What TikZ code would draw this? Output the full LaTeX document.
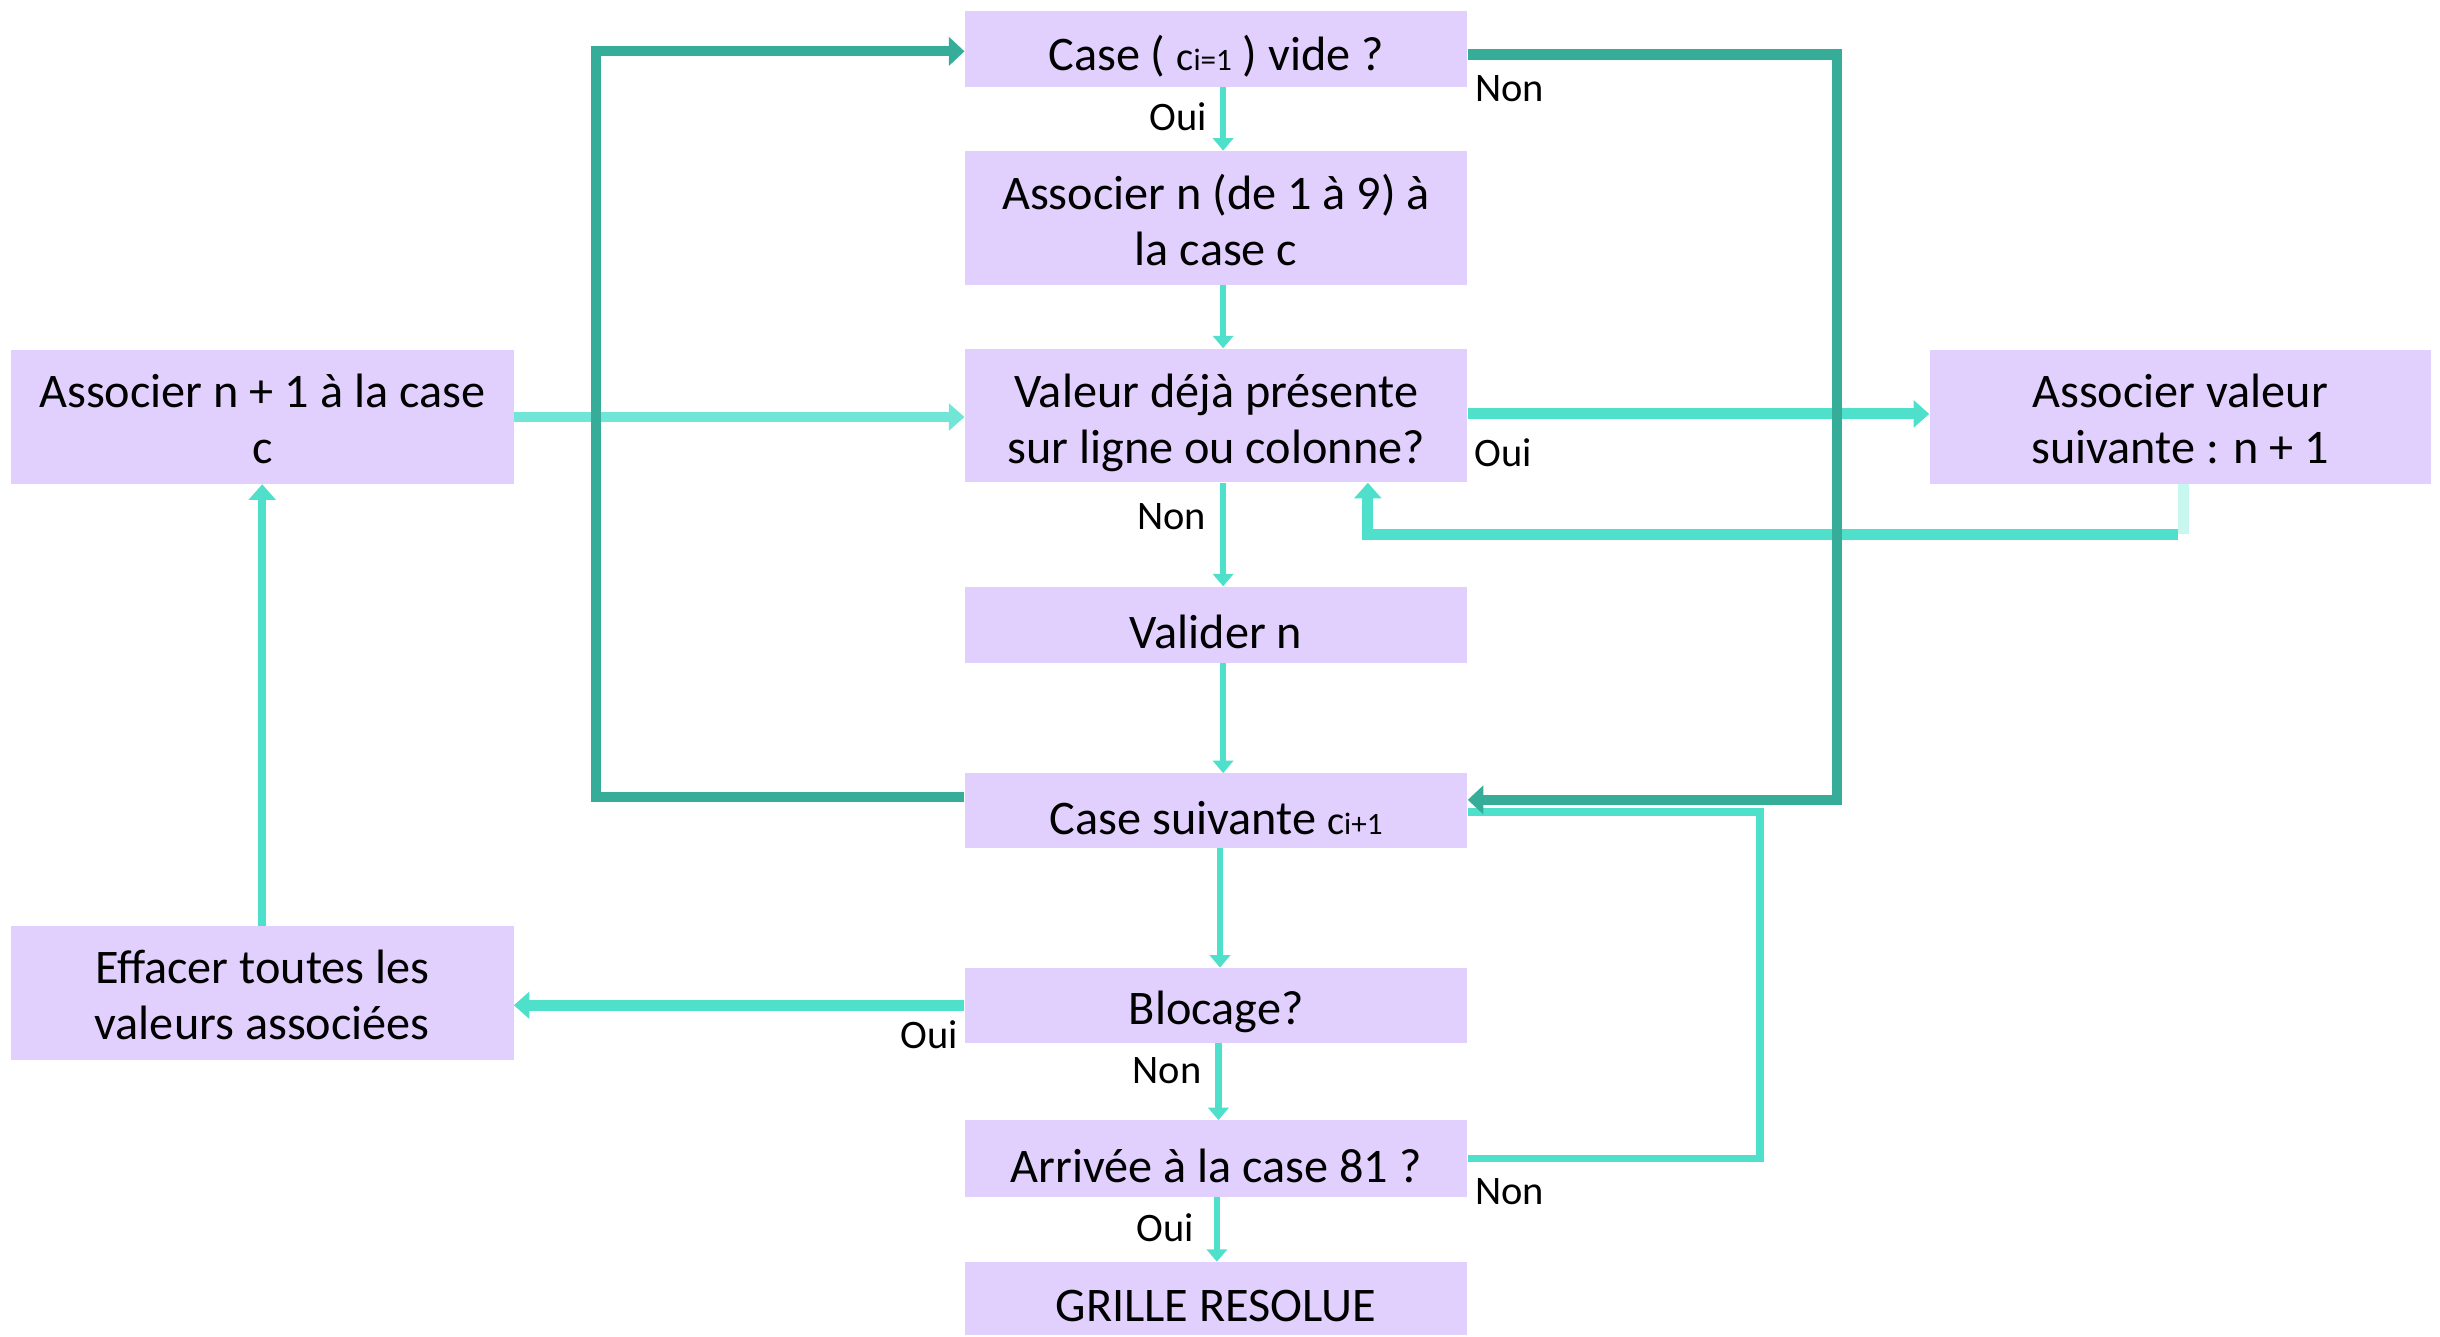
\documentclass[tikz,border=0pt]{standalone}
\usepackage{fontspec}
\setmainfont{Carlito}
\usetikzlibrary{arrows.meta}
\definecolor{boxfill}{RGB}{225,208,253}
\definecolor{turq}{RGB}{79,224,204}
\definecolor{turqlt}{RGB}{114,230,214}
\definecolor{palet}{RGB}{200,247,240}
\definecolor{dkteal}{RGB}{54,173,152}
\newcommand{\mysub}[2]{{\fontsize{26}{26}\selectfont #1}{\fontsize{20}{20}\selectfont #2}}
\begin{document}
\begin{tikzpicture}[x=1pt,y=-1pt,
  flowbox/.style={rectangle, fill=boxfill, inner sep=0pt, minimum width=323pt},
  txt/.style={inner sep=0pt, align=center, font=\fontsize{31}{36}\selectfont},
  lbl/.style={font=\fontsize{26}{30}\selectfont, inner sep=0pt},
  thin/.style={draw=turq, line width=4pt, -{Triangle[width=13pt,length=8pt]}},
  thick/.style={draw=turq, line width=7pt, -{Triangle[width=17pt,length=10pt]}},
  dk/.style={draw=dkteal, line width=6.5pt}
]
\useasboundingbox (0,0) rectangle (1568,859);
% boxes
\node[flowbox, minimum height=49pt] (B1) at (781.5,31.5) {};
\node[flowbox, minimum height=86pt] (B2) at (781.5,140) {};
\node[flowbox, minimum height=86pt] (B3) at (781.5,267) {};
\node[flowbox, minimum height=49pt] (B4) at (781.5,401.5) {};
\node[flowbox, minimum height=48pt] (B5) at (781.5,521) {};
\node[flowbox, minimum height=48pt] (B6) at (781.5,646) {};
\node[flowbox, minimum height=49pt] (B7) at (781.5,744.5) {};
\node[flowbox, minimum height=47pt] (B8) at (781.5,834.5) {};
\node[flowbox, minimum height=86pt] (L1) at (168.5,268) {};
\node[flowbox, minimum height=86pt] (L2) at (168.5,638) {};
\node[flowbox, minimum height=86pt, minimum width=322pt] (R1) at (1401,268) {};
% box texts
\node[txt] (T1) at ([yshift=-4.5pt]B1.center) {Case ( \mysub{c}{i=1} ) vide ?};
\node[txt] (T2) at ([yshift=-1.5pt]B2.center) {Associer n (de 1 à 9) à\\la case c};
\node[txt] (T3) at ([yshift=-4.5pt]B3.center) {Valeur déjà présente\\sur ligne ou colonne?};
\node[txt] (T4) at ([yshift=-4.5pt]B4.center) {Valider n};
\node[txt] (T5) at ([yshift=-4.5pt]B5.center) {Case suivante \mysub{c}{i+1}};
\node[txt] (T6) at ([yshift=-4.5pt]B6.center) {Blocage?};
\node[txt] (T7) at ([yshift=-4.5pt]B7.center) {Arrivée à la case 81 ?};
\node[txt] (T8) at ([yshift=-4.5pt]B8.center) {GRILLE RESOLUE};
\node[txt] (TL1) at ([yshift=-1.5pt]L1.center) {Associer n + 1 à la case\\c};
\node[txt] (TL2) at ([yshift=-1.5pt]L2.center) {Effacer toutes les\\valeurs associées};
\node[txt] (TR1) at ([yshift=-1.5pt]R1.center) {Associer valeur\\suivante : n + 1};

% thin vertical arrows
\draw[thin] ([xshift=4.5pt]B1.south) -- ([xshift=4.5pt]B2.north);
\draw[thin] ([xshift=4.5pt]B2.south) -- ([xshift=4.5pt]B3.north);
\draw[thin] ([xshift=4.5pt]B3.south) -- ([xshift=4.5pt]B4.north);
\draw[thin] ([xshift=4.5pt]B4.south) -- ([xshift=4.5pt]B5.north);
\draw[thin] ([xshift=2.5pt]B5.south) -- ([xshift=2.5pt]B6.north);
\draw[thin] ([xshift=1.5pt]B6.south) -- ([xshift=1.5pt]B7.north);
\draw[thin] ([xshift=0.5pt]B7.south) -- ([xshift=0.5pt]B8.north);

% horizontal thick arrows
\draw[thick] ([yshift=1pt]B3.east) -- ([yshift=1pt]B3.east -| R1.west);
\draw[thick, draw=turqlt] (L1.east) -- (L1.east -| B3.west);
\draw[thick] (B6.west) -- (B6.west -| L2.east);
\draw[thick, line width=5pt] (L2.north) -- (L1.south);

% loop from R1 back to B3
\draw[draw=palet, line width=7pt] ([xshift=2pt]R1.south) -- ++(0,32) coordinate (k1);
\draw[thick] ([xshift=-3.5pt]k1) -| ([xshift=97.5pt]B3.south);

% B7 Non back to B5
\draw[draw=turq, line width=5pt] (B7.east) -- ++(188,0) |- ([yshift=-1pt]B5.east);

% dark teal loops
\draw[dk, -{Triangle[width=18pt,length=10pt]}] ([yshift=9pt]B5.west) -- ++(-237,0) |- ([yshift=-1.5pt]B1.west);
\draw[dk, -{Triangle[width=18pt,length=10pt]}] ([yshift=-3.5pt]B1.east) -- ++(237,0) |- ([yshift=7pt]B5.east);

% labels
\node[lbl] (o1) at (757,75) {Oui};
\node[lbl] (n1) at (970,57) {Non};
\node[lbl] (o2) at (966,291) {Oui};
\node[lbl] (n2) at (753,332) {Non};
\node[lbl] (o3) at (597,665) {Oui};
\node[lbl] (n3) at (750,688) {Non};
\node[lbl] (n4) at (970,766) {Non};
\node[lbl] (o4) at (749,789) {Oui};
\end{tikzpicture}
\end{document}
